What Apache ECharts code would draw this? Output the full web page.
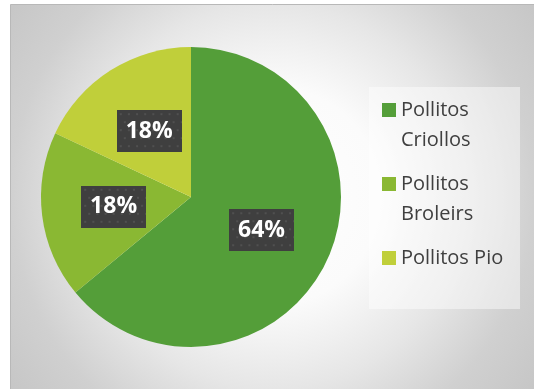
<!DOCTYPE html>
<html>
<head>
<meta charset="utf-8">
<script src="https://cdn.jsdelivr.net/npm/echarts@6/dist/echarts.min.js"></script>
<style>
  html, body { margin: 0; padding: 0; background: #ffffff; }
  #chart { width: 534px; height: 389px; }
</style>
</head>
<body>
<div id="chart"></div>
<script>
// Chick types and their share of the flock (percent)
const categories = ['Pollitos Criollos', 'Pollitos Broleirs', 'Pollitos Pio'];
const shares = [64, 18, 18];
const sliceColors = ['#549E39', '#8AB833', '#C0CF3A'];

// Dark dotted tile used behind the percentage labels
function dottedTile(w, h) {
  const c = document.createElement('canvas');
  c.width = w; c.height = h;
  const g = c.getContext('2d');
  g.fillStyle = '#3f3f3f';
  g.fillRect(0, 0, w, h);
  g.fillStyle = '#505050';
  for (let y = 3, row = 0; y < h; y += 8, row++) {
    for (let x = (row % 2 ? 7 : 3); x < w; x += 8) {
      g.fillRect(x, y, 2, 2);
    }
  }
  return c;
}
const tile = dottedTile(64, 42);

// Square marker sitting at the top of a taller legend cell, so that a
// wrapped two-line name starts level with the marker.
const topSquare = 'path://M0,0L14,0L14,14L0,14Z M0,44L0.01,44L0.01,43.99Z';

const legendText = {
  fontFamily: 'Open Sans',
  fontSize: 20,
  color: '#404040',
  lineHeight: 30,
  width: 118,
  overflow: 'break'
};

function legendFor(name, top, twoLines) {
  return {
    orient: 'vertical',
    left: 382,
    top: top,
    padding: 0,
    itemWidth: 14,
    itemHeight: twoLines ? 44 : 14,
    icon: twoLines ? topSquare : 'rect',
    selectedMode: false,
    textStyle: legendText,
    data: [name]
  };
}

const chart = echarts.init(document.getElementById('chart'), null, { renderer: 'canvas' });

chart.setOption({
  animation: false,
  color: sliceColors,
  graphic: [
    {
      type: 'rect',
      z: -10,
      silent: true,
      shape: { x: 10.5, y: 4.5, width: 540, height: 400 },
      style: {
        fill: {
          type: 'radial', x: 272, y: 196, r: 340, global: true,
          colorStops: [
            { offset: 0, color: '#ffffff' },
            { offset: 0.32, color: '#fbfbfb' },
            { offset: 0.565, color: '#e6e6e6' },
            { offset: 0.77, color: '#d0d0d0' },
            { offset: 1, color: '#c4c4c4' }
          ]
        },
        stroke: '#b8b8b8',
        lineWidth: 1
      }
    },
    {
      type: 'rect',
      z: -5,
      silent: true,
      shape: { x: 369, y: 87, width: 151, height: 222 },
      style: { fill: 'rgba(255,255,255,0.45)' }
    }
  ],
  legend: [
    legendFor(categories[0], 95, true),
    legendFor(categories[1], 169, true),
    legendFor(categories[2], 243, false)
  ],
  series: [
    {
      type: 'pie',
      center: [191, 197],
      radius: 150,
      startAngle: 90,
      clockwise: true,
      itemStyle: { borderWidth: 0 },
      emphasis: { disabled: true },
      label: {
        show: true,
        position: 'inside',
        formatter: p => p.value + '%',
        color: '#ffffff',
        fontFamily: 'Open Sans',
        fontWeight: 'bold',
        fontSize: 23,
        lineHeight: 24,
        padding: [9, 9, 9, 9],
        backgroundColor: { image: tile },
        shadowColor: 'rgba(0,0,0,0.5)',
        shadowBlur: 5,
        shadowOffsetX: 3,
        shadowOffsetY: 3
      },
      labelLine: { show: false },
      data: categories.map((name, i) => ({ name: name, value: shares[i] }))
    }
  ]
});
</script>
</body>
</html>
